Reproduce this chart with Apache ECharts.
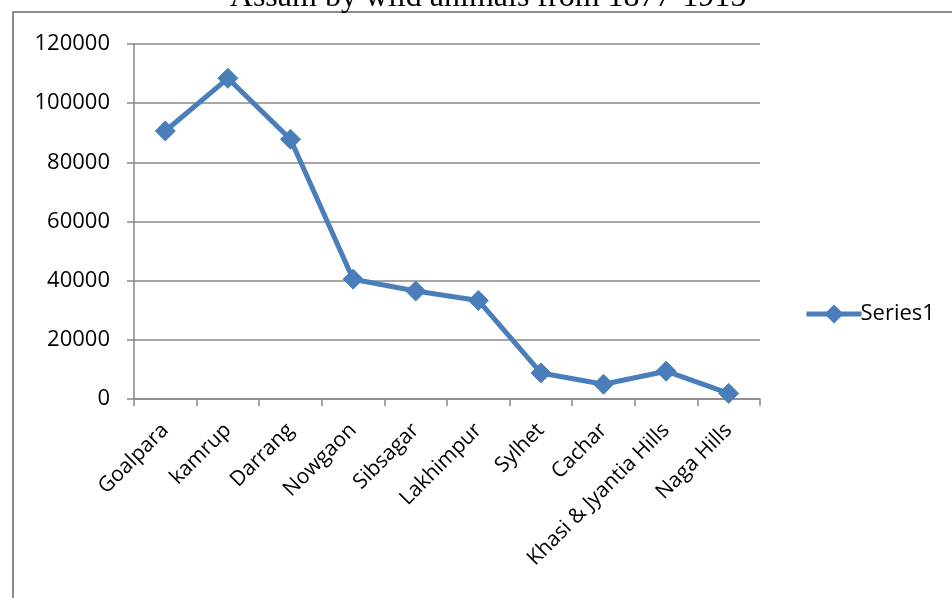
<!DOCTYPE html>
<html>
<head>
<meta charset="utf-8">
<script src="https://cdn.jsdelivr.net/npm/echarts@6/dist/echarts.min.js"></script>
<style>
  html, body { margin: 0; padding: 0; background: #fff; }
  #chart { width: 952px; height: 598px; }
</style>
</head>
<body>
<div id="chart"></div>
<script>
// Districts and the counts plotted along the line
const districts = ['Goalpara', 'kamrup', 'Darrang', 'Nowgaon', 'Sibsagar', 'Lakhimpur', 'Sylhet', 'Cachar', 'Khasi & Jyantia Hills', 'Naga Hills'];
const series1 = [90600, 108400, 87800, 40500, 36500, 33300, 8800, 5000, 9400, 1900];
const seriesName = 'Series1';
const titleText = 'Assam by wild animals from 1877-1915';

const lineBlue = '#4a7ebb';
const gridGray = '#888888';
const labelFont = '"Open Sans", "Liberation Sans", sans-serif';

const chart = echarts.init(document.getElementById('chart'), null, { renderer: 'canvas' });

chart.setOption({
  animation: false,
  backgroundColor: '#ffffff',
  graphic: [
    {
      type: 'polyline',
      shape: { points: [[13, 598], [13, 12], [952, 12]] },
      style: { stroke: '#8c8c8c', lineWidth: 2, fill: null },
      silent: true
    },
    {
      type: 'text',
      x: 488,
      y: -18,
      style: {
        text: titleText,
        align: 'center',
        verticalAlign: 'top',
        font: '32px "Liberation Serif", "Times New Roman", serif',
        fill: '#000'
      },
      silent: true
    }
  ],
  legend: {
    data: [seriesName],
    orient: 'vertical',
    left: 799,
    top: 298,
    itemWidth: 55,
    itemHeight: 24,
    itemGap: 4,
    lineStyle: { width: 5 },
    textStyle: { fontFamily: labelFont, fontSize: 22, color: '#000', padding: [0, 0, 0, -6] }
  },
  grid: { left: 134, right: 192, top: 44, bottom: 199 },
  xAxis: {
    type: 'category',
    data: districts,
    boundaryGap: true,
    axisLine: { lineStyle: { color: gridGray, width: 1.5 } },
    axisTick: { show: true, length: 7, alignWithLabel: false, lineStyle: { color: gridGray, width: 1.5 } },
    axisLabel: {
      rotate: 45,
      interval: 0,
      margin: 28,
      fontFamily: labelFont,
      fontSize: 21,
      color: '#000'
    },
    splitLine: { show: false }
  },
  yAxis: {
    type: 'value',
    min: 0,
    max: 120000,
    interval: 20000,
    axisLine: { show: true, lineStyle: { color: gridGray, width: 1.5 } },
    axisTick: { show: true, length: 7, lineStyle: { color: gridGray, width: 1.5 } },
    axisLabel: {
      margin: 24,
      fontFamily: labelFont,
      fontSize: 22,
      color: '#000',
      formatter: (v) => String(v)
    },
    splitLine: { show: true, lineStyle: { color: gridGray, width: 1.5 } }
  },
  series: [
    {
      name: seriesName,
      type: 'line',
      data: series1,
      symbol: 'diamond',
      symbolSize: 20,
      lineStyle: { color: lineBlue, width: 5 },
      itemStyle: { color: lineBlue, borderColor: lineBlue },
      z: 3
    }
  ]
});
</script>
</body>
</html>
